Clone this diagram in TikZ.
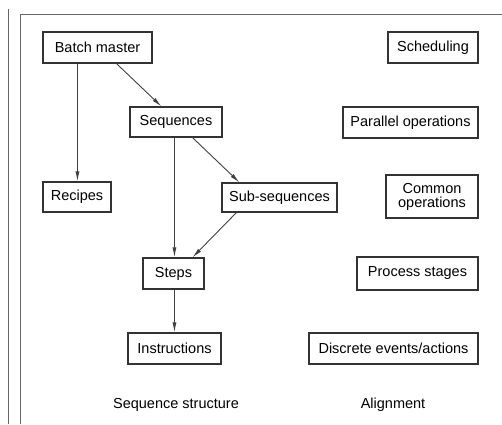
\documentclass[tikz,border=0pt]{standalone}
\usepackage{fontspec}
\setmainfont{Liberation Sans}
\usetikzlibrary{arrows.meta}
\begin{document}
\begin{tikzpicture}[x=1pt,y=-1pt,
  box/.style={draw=black!80, line width=1.1pt, inner sep=0pt, align=center,
    font=\fontsize{14.5}{14}\selectfont},
  lbl/.style={font=\fontsize{14.5}{14}\selectfont, inner sep=0pt},
  arr/.style={draw=black!75, line width=0.9pt, -{Latex[length=10pt,width=4pt]}},
  frame/.style={draw=black!60, line width=1pt}]
\useasboundingbox (0,0) rectangle (502,424);
% frame
\draw[frame] (8,9) -- (8,424);
\draw[frame] (20,424) -- (20,14) -- (502,14);
% left column
\node[box, minimum width=109pt, minimum height=31pt] (bm) at (97.5,47.5) {Batch master};
\node[box, minimum width=92pt, minimum height=30pt] (seq) at (176,122) {Sequences};
\node[box, minimum width=68pt, minimum height=30pt] (rec) at (77,197) {Recipes};
\node[box, minimum width=115pt, minimum height=29pt] (sub) at (279.5,197.5) {Sub-sequences};
\node[box, minimum width=61pt, minimum height=31pt] (steps) at (173.5,273.5) {Steps};
\node[box, minimum width=93pt, minimum height=31pt] (ins) at (174.5,348.5) {Instructions};
% right column
\node[box, minimum width=90pt, minimum height=31pt] (sch) at (433,47.5) {Scheduling};
\node[box, minimum width=135pt, minimum height=31pt] (par) at (410.5,122.5) {Parallel operations};
\node[box, minimum width=92pt, minimum height=43pt] (com) at (432,196.5) {Common\\operations};
\node[box, minimum width=121pt, minimum height=33pt] (proc) at (417.5,273.5) {Process stages};
\node[box, minimum width=169pt, minimum height=31pt] (disc) at (393.5,348.5) {Discrete events/actions};
% captions
\node[lbl] (cap1) at (176,405) {Sequence structure};
\node[lbl] (cap2) at (393,405) {Alignment};
% arrows
\draw[arr] ([xshift=35pt]bm.south west) -- ([xshift=35pt]rec.north west);
\draw[arr] ([xshift=74pt]bm.south west) -- ([xshift=32pt]seq.north west);
\draw[arr] ([xshift=45pt]seq.south west) -- ([xshift=32pt]steps.north west);
\draw[arr] ([xshift=63pt]seq.south west) -- ([xshift=18pt]sub.north west);
\draw[arr] ([xshift=15pt]sub.south west) -- ([xshift=50pt]steps.north west);
\draw[arr] ([xshift=32pt]steps.south west) -- ([xshift=47pt]ins.north west);
\end{tikzpicture}
\end{document}
